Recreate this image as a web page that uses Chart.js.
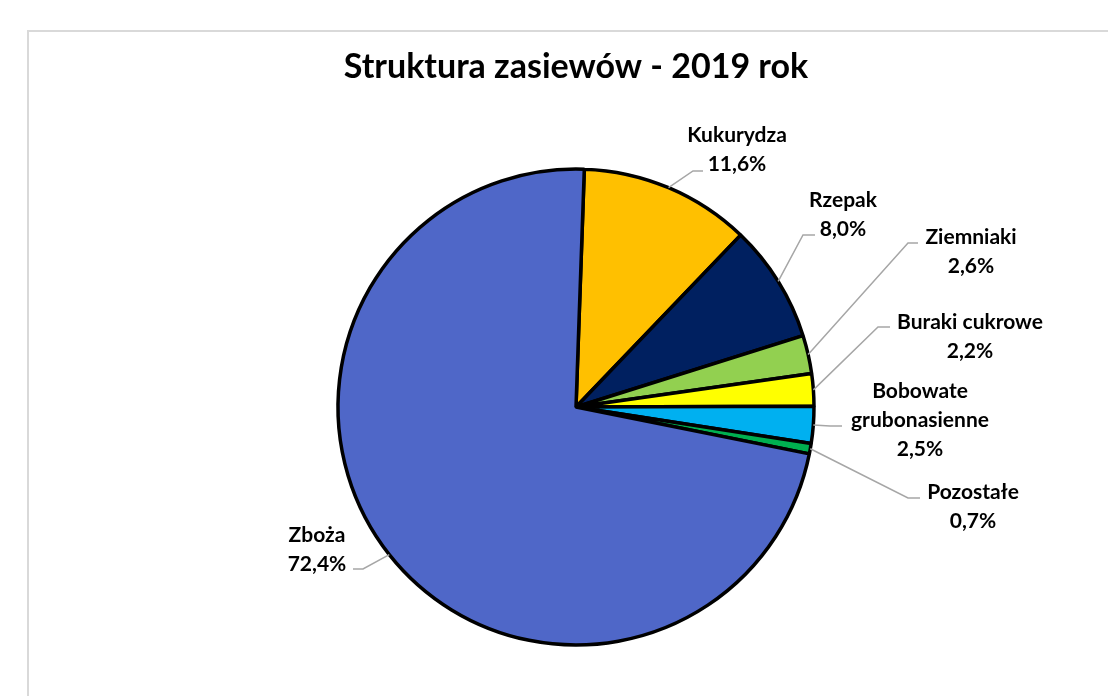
<!DOCTYPE html>
<html>
<head>
<meta charset="utf-8">
<script src="https://cdn.jsdelivr.net/npm/chart.js@4/dist/chart.umd.min.js"></script>
<style>
  html, body { margin: 0; padding: 0; background: #fff; }
  #wrap { position: relative; width: 1108px; height: 696px; overflow: hidden; }
  #frame { position: absolute; left: 27px; top: 30px; width: 1200px; height: 800px; border: 2px solid #d9d9d9; box-sizing: border-box; }
  canvas { position: absolute; left: 0; top: 0; }
</style>
</head>
<body>
<div id="wrap">
  <div id="frame"></div>
  <canvas id="pie" width="1108" height="696"></canvas>
</div>
<script>
// data, clockwise from the top
const categories = ['Kukurydza', 'Rzepak', 'Ziemniaki', 'Buraki cukrowe', 'Bobowate grubonasienne', 'Pozostałe', 'Zboża'];
const shares = [11.6, 8.0, 2.6, 2.2, 2.5, 0.7, 72.4];
const colors = ['#FFC000', '#002060', '#92D050', '#FFFF00', '#00B0F0', '#00B050', '#4F67C8'];

// label text lines (name split as in the picture) and where they sit
const labelLines = [['Kukurydza'], ['Rzepak'], ['Ziemniaki'], ['Buraki cukrowe'], ['Bobowate', 'grubonasienne'], ['Pozostałe'], ['Zboża']];
const labelAt = [
  { x: 737, y: 135, end: [703, 171], elbow: [693, 171] },
  { x: 843, y: 200, end: [815, 235], elbow: [803, 235] },
  { x: 971, y: 237, end: [918, 243], elbow: [908, 243] },
  { x: 970, y: 322, end: [890, 327], elbow: [878, 327] },
  { x: 920, y: 391, end: [842, 426], elbow: [830, 426] },
  { x: 973, y: 492, end: [920, 498], elbow: [908, 498] },
  { x: 317, y: 535, end: [353, 569], elbow: [363, 569] },
];

const fmtPct = v => v.toFixed(1).replace('.', ',') + '%';

const labelsPlugin = {
  id: 'pieLabels',
  afterDraw(chart) {
    const ctx = chart.ctx;
    const arcs = chart.getDatasetMeta(0).data;
    ctx.save();
    // title
    ctx.fillStyle = '#000';
    ctx.textAlign = 'center';
    ctx.textBaseline = 'middle';
    ctx.font = 'bold 34px Lato';
    ctx.fillText('Struktura zasiewów - 2019 rok', 576, 67);

    ctx.font = 'bold 21px Lato';
    arcs.forEach((arc, i) => {
      const p = arc.getProps(['x', 'y', 'startAngle', 'endAngle', 'outerRadius'], true);
      const mid = (p.startAngle + p.endAngle) / 2;
      const sx = p.x + Math.cos(mid) * p.outerRadius;
      const sy = p.y + Math.sin(mid) * p.outerRadius;
      const L = labelAt[i];
      ctx.strokeStyle = '#a6a6a6';
      ctx.lineWidth = 1.5;
      ctx.beginPath();
      ctx.moveTo(sx, sy);
      ctx.lineTo(L.elbow[0], L.elbow[1]);
      ctx.lineTo(L.end[0], L.end[1]);
      ctx.stroke();
      const lines = labelLines[i].concat([fmtPct(shares[i])]);
      ctx.fillStyle = '#000';
      lines.forEach((t, k) => ctx.fillText(t, L.x, L.y + k * 29));
    });
    ctx.restore();
  }
};

new Chart(document.getElementById('pie'), {
  type: 'pie',
  data: {
    labels: categories,
    datasets: [{
      data: shares,
      backgroundColor: colors,
      borderColor: '#000',
      borderWidth: 3.5,
      radius: 238,
    }]
  },
  options: {
    responsive: false,
    animation: false,
    devicePixelRatio: 1,
    rotation: 2,
    layout: { padding: { left: 338, right: 294, top: 169, bottom: 51 } },
    plugins: { legend: { display: false }, tooltip: { enabled: false } },
  },
  plugins: [labelsPlugin],
});
</script>
</body>
</html>
